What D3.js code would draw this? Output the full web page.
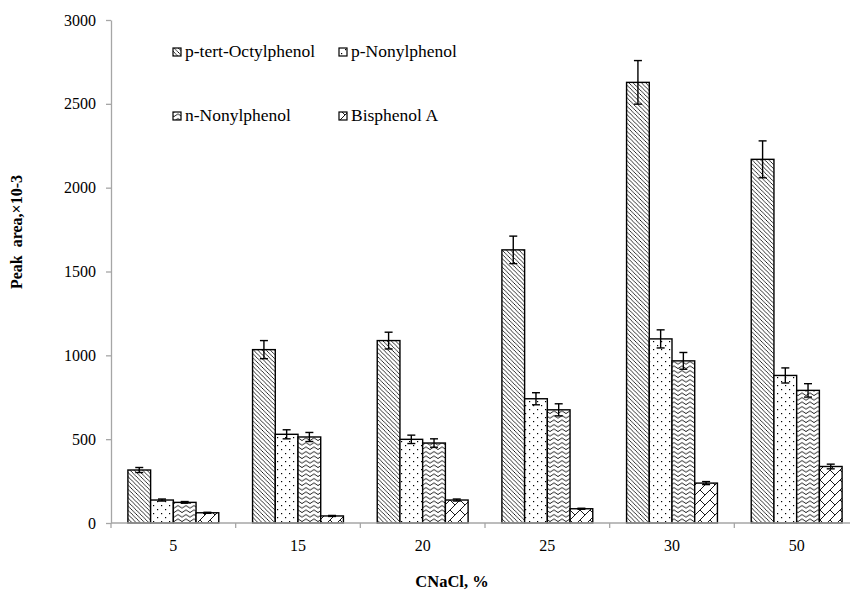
<!DOCTYPE html>
<html>
<head>
<meta charset="utf-8">
<script src="https://cdn.jsdelivr.net/npm/d3@7"></script>
<style>
  body { margin: 0; background: #fff; }
  svg text { font-family: "Liberation Serif", "Times New Roman", serif !important; fill: #000; }
</style>
</head>
<body>
<div id="chart"></div>
<script>
const categories = ["5", "15", "20", "25", "30", "50"];
const seriesNames = ["p-tert-Octylphenol", "p-Nonylphenol", "n-Nonylphenol", "Bisphenol A"];
const octylphenol = [316, 1034, 1088, 1629, 2628, 2169];
const pNonylphenol = [137, 529, 499, 741, 1098, 880];
const nNonylphenol = [123, 513, 477, 675, 967, 791];
const bisphenolA = [61, 42, 137, 85, 238, 337];
const octylphenolErr = [15, 54, 50, 82, 130, 110];
const pNonylphenolErr = [6, 27, 25, 36, 54, 45];
const nNonylphenolErr = [5, 27, 25, 36, 50, 40];
const bisphenolAErr = [3, 3, 6, 3, 9, 14];
const yTicks = [0, 500, 1000, 1500, 2000, 2500, 3000];

const serif = "'Liberation Serif', 'Times New Roman', serif";

let width = 850,
    height = 590,
    margin = ({ top: 20, right: -9, bottom: 67, left: 111 });

const svg = d3.select("#chart")
  .append("svg")
  .attr("width", width)
  .attr("height", height)
  .attr("font-family", serif);

// fill patterns, one per series
const defs = svg.append("defs");

let p = defs.append("pattern").attr("id", "pat0")
  .attr("patternUnits", "userSpaceOnUse").attr("width", 4.2).attr("height", 4.2);
p.append("rect").attr("width", 4.2).attr("height", 4.2).attr("fill", "#fff");
p.append("path").attr("d", "M-1,-1 L5.2,5.2 M-1,3.2 L1,5.2 M3.2,-1 L5.2,1")
  .attr("stroke", "#000").attr("stroke-width", 0.8);

p = defs.append("pattern").attr("id", "pat1")
  .attr("patternUnits", "userSpaceOnUse").attr("width", 8).attr("height", 8);
p.append("rect").attr("width", 8).attr("height", 8).attr("fill", "#fff");
p.append("rect").attr("x", 1).attr("y", 1).attr("width", 1.2).attr("height", 1.2).attr("fill", "#000");
p.append("rect").attr("x", 5).attr("y", 5).attr("width", 1.2).attr("height", 1.2).attr("fill", "#000");

p = defs.append("pattern").attr("id", "pat2")
  .attr("patternUnits", "userSpaceOnUse").attr("width", 8).attr("height", 4.5);
p.append("rect").attr("width", 8).attr("height", 4.5).attr("fill", "#fff");
p.append("path").attr("d", "M0,2.8 Q2,0.2 4,2.8 T8,2.8")
  .attr("fill", "none").attr("stroke", "#000").attr("stroke-width", 0.9);

p = defs.append("pattern").attr("id", "pat3")
  .attr("patternUnits", "userSpaceOnUse").attr("width", 10).attr("height", 10);
p.append("rect").attr("width", 10).attr("height", 10).attr("fill", "#fff");
p.append("path").attr("d", "M-1,11 L11,-1 M0,0 L5,5 M-1,1 L0,0 M10,10 L11,11")
  .attr("stroke", "#000").attr("stroke-width", 0.9);

const values = [octylphenol, pNonylphenol, nNonylphenol, bisphenolA];
const errors = [octylphenolErr, pNonylphenolErr, nNonylphenolErr, bisphenolAErr];

let data = [];
categories.forEach((c, i) => {
  seriesNames.forEach((s, j) => {
    data.push({ cat: c, series: s, k: j, value: values[j][i], err: errors[j][i] });
  });
});

let x = d3.scaleBand()
  .domain(categories)
  .range([margin.left, width - margin.right]);

let step = x.bandwidth();
let xs = d3.scaleBand()
  .domain(seriesNames)
  .range([16.9, step - 16.9]);

let y = d3.scaleLinear()
  .domain([0, 3000])
  .range([height - margin.bottom, margin.top]);

// y axis
const yAxis = svg.append("g")
  .attr("transform", `translate(${margin.left},0)`)
  .call(d3.axisLeft(y)
    .tickValues(yTicks)
    .tickFormat(d3.format("d"))
    .tickSize(5)
    .tickSizeOuter(0)
    .tickPadding(10));
yAxis.attr("font-family", serif).attr("font-size", 16);
yAxis.select(".domain").attr("stroke", "#a6a6a6").attr("stroke-width", 1.3);
yAxis.selectAll(".tick line").attr("stroke", "#a6a6a6").attr("stroke-width", 1.3);

// bars
svg.append("g")
  .selectAll("rect")
  .data(data)
  .join("rect")
  .attr("x", d => x(d.cat) + xs(d.series))
  .attr("y", d => y(d.value))
  .attr("width", xs.bandwidth())
  .attr("height", d => y(0) - y(d.value))
  .attr("fill", d => `url(#pat${d.k})`)
  .attr("stroke", "#000")
  .attr("stroke-width", 1.4);

// x axis (category boundaries as ticks)
const xAxisG = svg.append("g")
  .attr("transform", `translate(0,${y(0)})`);
xAxisG.append("line")
  .attr("x1", margin.left).attr("x2", width - margin.right)
  .attr("stroke", "#a6a6a6").attr("stroke-width", 1.3);
xAxisG.selectAll(".xt")
  .data(categories)
  .join("line")
  .attr("x1", d => x(d)).attr("x2", d => x(d))
  .attr("y1", 0).attr("y2", 5)
  .attr("stroke", "#a6a6a6").attr("stroke-width", 1.3);
xAxisG.selectAll(".xl")
  .data(categories)
  .join("text")
  .attr("x", d => x(d) + step / 2)
  .attr("y", 28)
  .attr("text-anchor", "middle")
  .attr("font-size", 16)
  .text(d => d);

// error bars
const eb = svg.append("g").attr("stroke", "#000").attr("stroke-width", 1.4);
for (let d of data) {
  let cx = x(d.cat) + xs(d.series) + xs.bandwidth() / 2;
  let hi = y(d.value + d.err), lo = y(d.value - d.err);
  eb.append("line").attr("x1", cx).attr("x2", cx).attr("y1", hi).attr("y2", lo);
  eb.append("line").attr("x1", cx - 4).attr("x2", cx + 4).attr("y1", hi).attr("y2", hi);
  eb.append("line").attr("x1", cx - 4).attr("x2", cx + 4).attr("y1", lo).attr("y2", lo);
}

// legend
const legendPos = [[173, 48], [339, 48], [173, 112], [339, 112]];
seriesNames.forEach((s, j) => {
  let [lx, ly] = legendPos[j];
  svg.append("rect")
    .attr("x", lx).attr("y", ly).attr("width", 8).attr("height", 8)
    .attr("fill", `url(#pat${j})`).attr("stroke", "#000").attr("stroke-width", 1.2);
  svg.append("text")
    .attr("x", lx + 12).attr("y", ly + 9)
    .attr("font-size", 17.5)
    .text(s);
});

// axis titles
svg.append("text")
  .attr("transform", `translate(22,232) rotate(-90)`)
  .attr("text-anchor", "middle")
  .attr("font-size", 16)
  .attr("font-weight", "bold")
  .style("white-space", "pre")
  .text("Peak  area,×10-3");

svg.append("text")
  .attr("x", 452)
  .attr("y", 587)
  .attr("text-anchor", "middle")
  .attr("font-size", 16.5)
  .attr("font-weight", "bold")
  .text("CNaCl, %");
</script>
</body>
</html>
